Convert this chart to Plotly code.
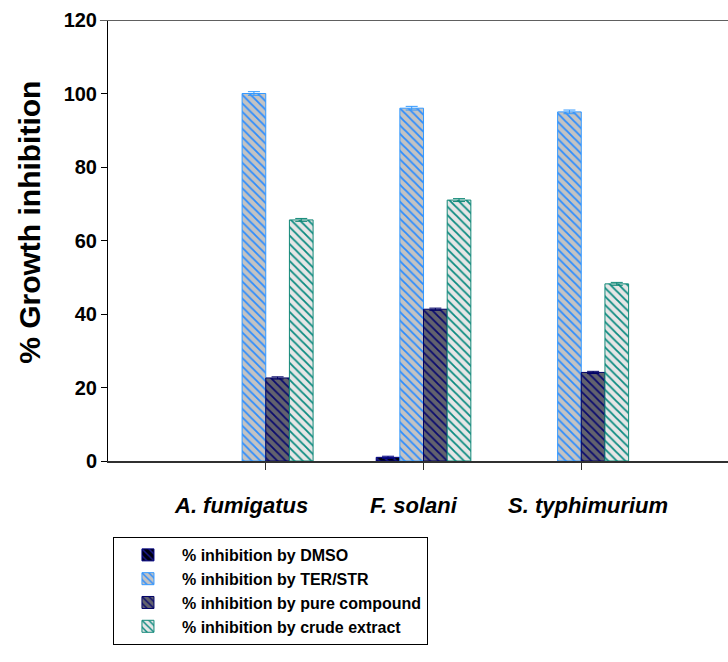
import plotly.graph_objects as go

categories = ["A. fumigatus", "F. solani", "S. typhimurium"]
series_names = [
    "% inhibition by DMSO",
    "% inhibition by TER/STR",
    "% inhibition by pure compound",
    "% inhibition by crude extract",
]
dmso = [None, 1.0, None]
ter_str = [100.0, 96.0, 95.0]
pure = [22.6, 41.3, 24.1]
crude = [65.6, 71.0, 48.2]
err_dmso = [0, 0.3, 0]
err_ter = [0.5, 0.5, 0.5]
err_pure = [0.3, 0.3, 0.3]
err_crude = [0.4, 0.4, 0.4]
y_ticks = [0, 20, 40, 60, 80, 100, 120]
y_title = "% Growth inhibition"

FONT = "Liberation Sans, Arial, sans-serif"

styles = [
    dict(bg="#000010", fg="#1a1a8c", line="#000080"),
    dict(bg="#c3c3c3", fg="#2b8cff", line="#3399ff"),
    dict(bg="#62626e", fg="#0a0a6e", line="#000066"),
    dict(bg="#e6e6e6", fg="#0a8a80", line="#118877"),
]
values = [dmso, ter_str, pure, crude]
errors = [err_dmso, err_ter, err_pure, err_crude]
xi = list(range(len(categories)))
# category text boxes sit slightly more spread than the category ticks
label_pos = [i * 1.1 - 0.16 for i in xi]

fig = go.Figure()
for name, vals, errs, st in zip(series_names, values, errors, styles):
    fig.add_trace(go.Bar(
        name=name, x=xi, y=vals,
        marker=dict(
            color=st["bg"],
            line=dict(color=st["line"], width=1),
            pattern=dict(shape="\\", fgcolor=st["fg"], bgcolor=st["bg"],
                         size=6, solidity=0.3, fillmode="replace"),
        ),
        error_y=dict(type="data", array=errs, visible=True,
                     color=st["line"], thickness=1, width=6),
    ))

XR = [-1, 2.93]
fig.update_layout(
    width=728, height=662,
    margin=dict(l=108, r=0, t=20, b=201, autoexpand=False),
    plot_bgcolor="white", paper_bgcolor="white",
    barmode="group", bargap=0.4, bargroupgap=0,
    font=dict(family=FONT, color="black"),
    showlegend=True,
    legend=dict(
        x=0.008, y=-0.1723, xanchor="left", yanchor="top",
        bordercolor="black", borderwidth=1, bgcolor="white",
        font=dict(family=FONT, size=16, color="black", weight="bold"),
        tracegroupgap=0, itemwidth=58,
    ),
    xaxis=dict(range=XR, tickvals=xi, showticklabels=False,
               ticks="outside", ticklen=7, tickcolor="#303030", tickwidth=1,
               showline=True, linecolor="#303030", linewidth=2,
               showgrid=False, zeroline=False, automargin=False),
    yaxis=dict(range=[0, 120], tickvals=y_ticks,
               tickfont=dict(family=FONT, size=20, color="black", weight="bold"),
               ticks="outside", ticklen=6, tickcolor="black", tickwidth=1,
               showline=True, linecolor="black", linewidth=1,
               showgrid=False, zeroline=False, automargin=False),
)
for pos, txt in zip(label_pos, categories):
    fig.add_annotation(x=pos, xref="x", y=-0.102, yref="paper",
                       text=txt, showarrow=False, xanchor="center", yanchor="middle",
                       font=dict(family=FONT, size=22, color="black",
                                 weight="bold", style="italic"))
fig.add_annotation(x=-0.126, xref="paper", y=0.542, yref="paper", text=y_title,
                   textangle=-90, showarrow=False, xanchor="center", yanchor="middle",
                   font=dict(family=FONT, size=30, color="black", weight="bold"))
fig.add_shape(type="line", xref="paper", yref="y", x0=-0.013, x1=1, y0=120, y1=120,
              line=dict(color="#606060", width=2))

fig.write_html("out.html")
